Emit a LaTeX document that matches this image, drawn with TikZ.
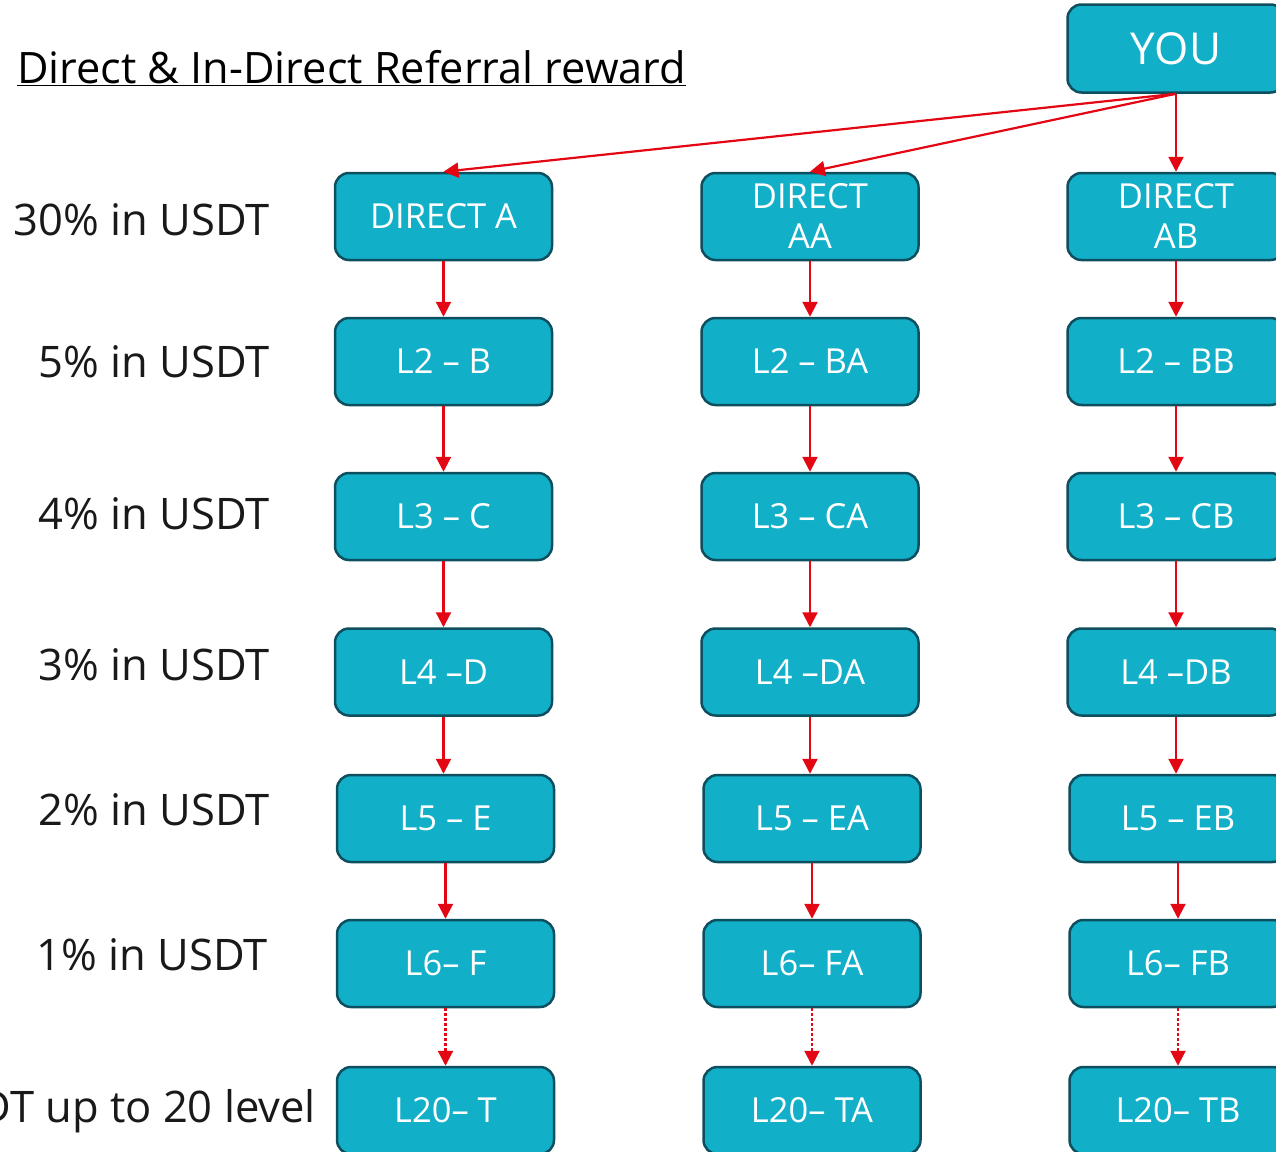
\documentclass[tikz,border=0pt]{standalone}
\usepackage{fontspec}
\setmainfont{Open Sans}
\usetikzlibrary{arrows.meta}
\definecolor{boxfill}{HTML}{12AFC8}
\definecolor{boxline}{HTML}{0D4F5E}
\definecolor{arrred}{HTML}{E30613}
\tikzset{
  refbox/.style={draw=boxline, fill=boxfill, line width=2.5pt, rounded corners=14pt,
    minimum width=217pt, minimum height=87pt, inner sep=0pt, text=white, align=center,
    font=\fontsize{34.5}{40}\selectfont},
  rarrow/.style={draw=arrred, line width=2.2pt, -{Triangle[width=15pt,length=15pt]}},
  darrow/.style={rarrow, dash pattern=on 2.5pt off 2.5pt},
  lvl/.style={anchor=base east, inner sep=0pt, text=black!90, font=\fontsize{43.5}{48}\selectfont}
}
\begin{document}
\begin{tikzpicture}[x=1pt,y=-1pt]
\useasboundingbox (0,0) rectangle (1276,1151);
\clip (0,0) rectangle (1276,1151);
% title
\node[anchor=base west, inner sep=0pt, font=\fontsize{43.3}{48}\selectfont] (title) at (17,83) {\underline{Direct \& In-Direct Referral reward}};
% YOU
\node[refbox, font=\fontsize{44}{50}\selectfont, minimum height=88pt] (you) at (1176,48.5) {YOU};
% columns
\node[refbox] (a1) at (443.5,216.5) {DIRECT A};
\node[refbox] (a2) at (443.5,361.5) {L2 – B};
\node[refbox] (a3) at (443.5,516.5) {L3 – C};
\node[refbox] (a4) at (443.5,672) {L4 –D};
\node[refbox] (a5) at (445.5,818.5) {L5 – E};
\node[refbox] (a6) at (445.5,963.5) {L6– F};
\node[refbox] (a7) at (445.5,1110.5) {L20– T};
\node[refbox] (b1) at (810,216.5) {DIRECT\\AA};
\node[refbox] (b2) at (810,361.5) {L2 – BA};
\node[refbox] (b3) at (810,516.5) {L3 – CA};
\node[refbox] (b4) at (810,672) {L4 –DA};
\node[refbox] (b5) at (812,818.5) {L5 – EA};
\node[refbox] (b6) at (812,963.5) {L6– FA};
\node[refbox] (b7) at (812,1110.5) {L20– TA};
\node[refbox] (c1) at (1176,216.5) {DIRECT\\AB};
\node[refbox] (c2) at (1176,361.5) {L2 – BB};
\node[refbox] (c3) at (1176,516.5) {L3 – CB};
\node[refbox] (c4) at (1176,672) {L4 –DB};
\node[refbox] (c5) at (1178,818.5) {L5 – EB};
\node[refbox] (c6) at (1178,963.5) {L6– FB};
\node[refbox] (c7) at (1178,1110.5) {L20– TB};
% connectors
\draw[rarrow] (you.south) -- (a1.north);
\draw[rarrow] (you.south) -- (b1.north);
\draw[rarrow] (you.south) -- (c1.north);
\foreach \c in {a,b,c}{
  \draw[rarrow] (\c1.south) -- (\c2.north);
  \draw[rarrow] (\c2.south) -- (\c3.north);
  \draw[rarrow] (\c3.south) -- (\c4.north);
  \draw[rarrow] (\c4.south) -- (\c4.south |- \c5.north);
  \draw[rarrow] (\c5.south) -- (\c6.north);
  \draw[darrow] (\c6.south) -- (\c7.north);
}
% level labels
\node[lvl] (l1) at (270,235) {30\% in USDT};
\node[lvl] (l2) at (270,377) {5\% in USDT};
\node[lvl] (l3) at (270,529) {4\% in USDT};
\node[lvl] (l4) at (270,680) {3\% in USDT};
\node[lvl] (l5) at (270,825) {2\% in USDT};
\node[lvl] (l6) at (268,970) {1\% in USDT};
\node[lvl] (l7) at (316,1122) {0.5\% in USDT up to 20 level};
\end{tikzpicture}
\end{document}
